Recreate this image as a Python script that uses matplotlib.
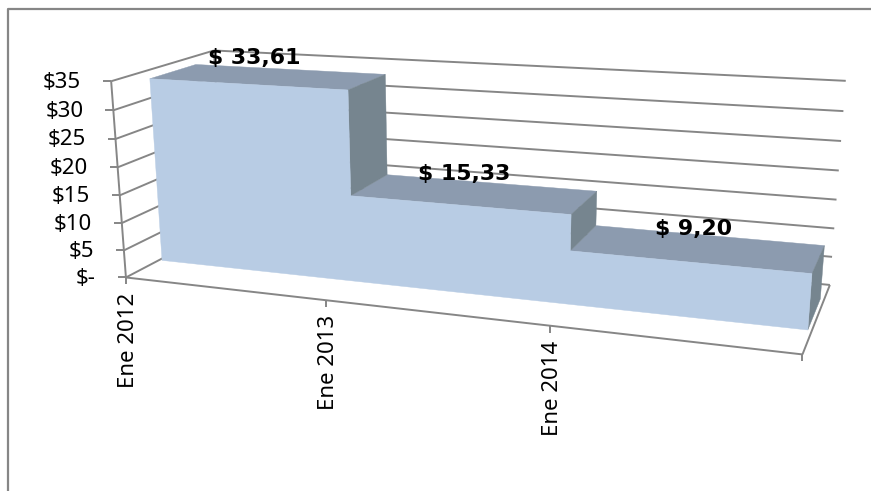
# -*- coding: utf-8 -*-
import numpy as np
import matplotlib
matplotlib.use("Agg")
import matplotlib.pyplot as plt

# chart data
periods = ["Ene 2012", "Ene 2013", "Ene 2014"]
values = [33.61, 15.33, 9.20]
value_labels = ["$ 33,61", "$ 15,33", "$ 9,20"]
y_ticks = [0, 5, 10, 15, 20, 25, 30, 35]
y_labels = ["$-", "$5", "$10", "$15", "$20", "$25", "$30", "$35"]

LINE = "#868686"
FRONT = "#B8CCE4"
TOP = "#8C9BAF"
SIDE = "#76858F"
Y_MAX = 35.0
N = len(periods)
# depth of the area inside the box, 0 is front and 1 is back wall
Z1, Z2 = 0.315, 0.77
# the area stops a little short of both ends of the x axis
INSET = 0.016
# pixel shift of each data label from the middle of its step
label_dx = [10, 6, 4]
label_dy = [-26, -31, -33]

# camera: where the corners of the 3d box end up on the picture (x, value, depth -> px)
anchors = [
    (0, 35, 0, 112.0, 78.3),
    (0, 0, 0, 126.0, 277.3),
    (1, 0, 0, 326.0, 300.0),
    (2, 0, 0, 550.0, 328.0),
    (3, 0, 0, 801.0, 355.7),
    (3, 0, 1, 830.7, 282.0),
    (3, 35, 1, 846.0, 81.3),
    (0, 35, 1, 213.0, 52.7),
]
rows = []
for X, Y, Z, u, v in anchors:
    p = [X / N, Y / Y_MAX, Z, 1.0]
    rows.append(p + [0, 0, 0, 0] + [-u * c for c in p])
    rows.append([0, 0, 0, 0] + p + [-v * c for c in p])
P = np.linalg.svd(np.array(rows))[2][-1].reshape(3, 4)


def project(x, val, z):
    h = P @ np.array([x / N, val / Y_MAX, z, 1.0])
    return h[0] / h[2], h[1] / h[2]


fig = plt.figure(figsize=(8.71, 4.91), dpi=100)
ax = fig.add_axes([0, 0, 1, 1])
ax.set_xlim(0, 871)
ax.set_ylim(491, 0)
ax.axis("off")

# chart frame, runs off the right and bottom of the image
ax.plot([8, 8, 880], [500, 9, 9], color=LINE, lw=1.6, zorder=1)


def seg(a, b, lw=1.4, zorder=2):
    ax.plot([a[0], b[0]], [a[1], b[1]], color=LINE, lw=lw, zorder=zorder,
            solid_capstyle="butt")


# walls, gridlines and y ticks
for v, lab in zip(y_ticks, y_labels):
    f = project(0, v, 0)
    b = project(0, v, 1)
    r = project(N, v, 1)
    seg(f, b)
    seg(b, r)
    seg((f[0] - 8, f[1]), f)
    ax.text(f[0] - 30, f[1] + 1, lab, ha="right", va="center", fontsize=16,
            family="Noto Sans", color="black", zorder=6)
seg(project(0, 0, 0), project(0, Y_MAX, 0))
seg(project(0, 0, 1), project(0, Y_MAX, 1))

# floor and x ticks
seg(project(0, 0, 0), project(N, 0, 0))
seg(project(N, 0, 0), project(N, 0, 1))
for i in range(N + 1):
    p = project(i, 0, 0)
    seg(p, (p[0], p[1] + 7))
    if i < N:
        ax.text(p[0] + 3, p[1] + 15, periods[i], rotation=90, ha="center", va="top",
                fontsize=16, family="Noto Sans", color="black", zorder=6)

# x positions of the step edges, pulled in at both ends
edges = [INSET] + list(range(1, N)) + [N - INSET]

# top faces of the steps
for i, v in enumerate(values):
    x0, x1 = edges[i], edges[i + 1]
    quad = [project(x0, v, Z1), project(x1, v, Z1), project(x1, v, Z2), project(x0, v, Z2)]
    ax.fill(*zip(*quad), facecolor=TOP, edgecolor=TOP, lw=0.3, zorder=3)

# side faces, one for each drop and one at the far end
drops = values[1:] + [0]
for i, (v, d) in enumerate(zip(values, drops)):
    x1 = edges[i + 1]
    quad = [project(x1, v, Z1), project(x1, v, Z2), project(x1, d, Z2), project(x1, d, Z1)]
    ax.fill(*zip(*quad), facecolor=SIDE, edgecolor=SIDE, lw=0.3, zorder=4)

# front face
outline = [project(edges[0], 0, Z1)]
for i, v in enumerate(values):
    outline.append(project(edges[i], v, Z1))
    outline.append(project(edges[i + 1], v, Z1))
outline.append(project(edges[-1], 0, Z1))
ax.fill(*zip(*outline), facecolor=FRONT, edgecolor=FRONT, lw=0.3, zorder=5)

# data labels
for i, (v, lab) in enumerate(zip(values, value_labels)):
    x, y = project(i + 0.5, v, Z1)
    ax.text(x + label_dx[i], y + label_dy[i], lab, ha="center", va="center", fontsize=15.8,
            fontweight="bold", family="DejaVu Sans", color="black", zorder=7)

fig.savefig("out.png", dpi=100)
